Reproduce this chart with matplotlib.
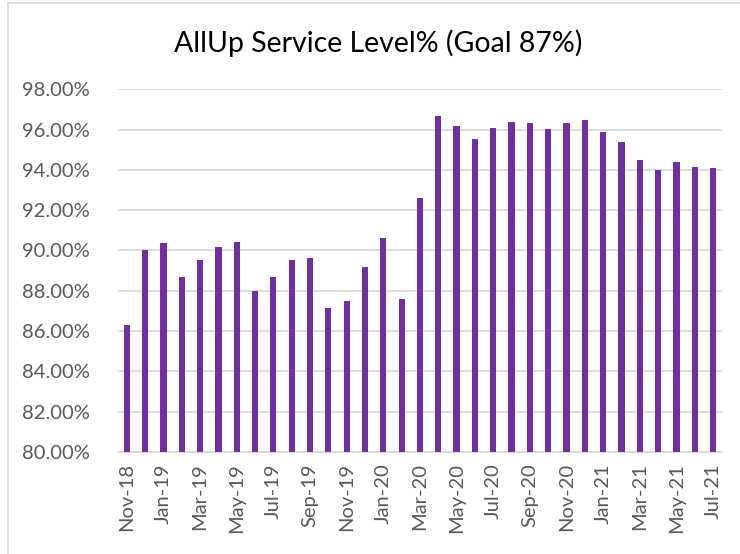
import matplotlib as mpl
mpl.use('Agg')
import matplotlib.pyplot as plt
from matplotlib.lines import Line2D
from matplotlib.ticker import FuncFormatter

months = ['Nov-18', 'Dec-18', 'Jan-19', 'Feb-19', 'Mar-19', 'Apr-19', 'May-19', 'Jun-19',
          'Jul-19', 'Aug-19', 'Sep-19', 'Oct-19', 'Nov-19', 'Dec-19', 'Jan-20', 'Feb-20',
          'Mar-20', 'Apr-20', 'May-20', 'Jun-20', 'Jul-20', 'Aug-20', 'Sep-20', 'Oct-20',
          'Nov-20', 'Dec-20', 'Jan-21', 'Feb-21', 'Mar-21', 'Apr-21', 'May-21', 'Jun-21',
          'Jul-21']
service_level = [86.3, 90.0, 90.35, 88.68, 89.55, 90.15, 90.4, 88.0,
                 88.68, 89.55, 89.65, 87.17, 87.5, 89.2, 90.6, 87.58,
                 92.62, 96.66, 96.16, 95.52, 96.06, 96.36, 96.34, 96.05,
                 96.32, 96.48, 95.88, 95.4, 94.5, 93.97, 94.37, 94.15,
                 94.08]

fig = plt.figure(figsize=(7.4, 5.54), dpi=100)
ax = fig.add_axes([0.159, 0.184, 0.817, 0.655])

x = range(len(months))
ax.bar(x, service_level, width=0.34, color='#7030A0', zorder=3)

ax.set_ylim(80, 98)
ax.set_xlim(-0.5, len(months) - 0.5)
ax.set_yticks(range(80, 99, 2))
ax.yaxis.set_major_formatter(FuncFormatter(lambda v, p: '{:.2f}%'.format(v)))
ax.set_xticks(list(x)[::2])
ax.set_xticklabels(months[::2], rotation=90)
ax.grid(axis='y', color='#D9D9D9', linewidth=1.3, zorder=0)

for s in ['top', 'right', 'left']:
    ax.spines[s].set_visible(False)
ax.spines['bottom'].set_color('#D9D9D9')
ax.spines['bottom'].set_linewidth(1.3)
ax.tick_params(axis='both', length=0, colors='#595959', labelsize=14.5)
ax.tick_params(axis='y', pad=20)
ax.tick_params(axis='x', pad=8)
for lab in ax.get_xticklabels() + ax.get_yticklabels():
    lab.set_family('Lato')

fig.text(0.511, 0.922, 'AllUp Service Level% (Goal 87%)', ha='center', va='center',
         fontsize=20.5, color='#000000', family='Lato')

# chart area border (left and top visible)
fig.add_artist(Line2D([0.0105, 0.0105], [0, 0.995], color='#D9D9D9', lw=1.2))
fig.add_artist(Line2D([0.0105, 1], [0.995, 0.995], color='#D9D9D9', lw=1.2))

plt.savefig('out.png', dpi=100, facecolor='white')
